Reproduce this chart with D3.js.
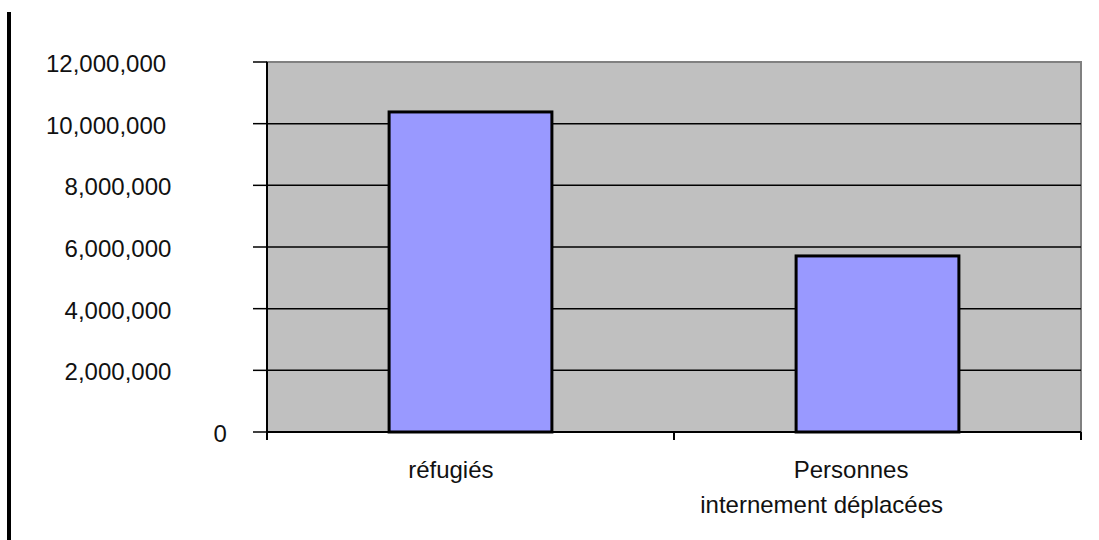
<!DOCTYPE html>
<html lang="fr">
  <head>
    <meta charset="utf-8">
    <title>Réfugiés et personnes déplacées</title>
    <style>
      body { margin: 0; background: #fff; }
      text { font-family: "Liberation Sans", Arial, sans-serif; font-size: 24px; fill: #111; }
      .grid { stroke: #000; stroke-width: 1.5px; }
      .bar { fill: #9999ff; stroke: #000; stroke-width: 3px; }
    </style>
  </head>
  <body>

<script src="https://cdn.jsdelivr.net/npm/d3@7"></script>

<script>

// data
const categories = ["réfugiés", "Personnes\ninternement déplacées"];
const values = [10380000, 5710000];
const yTicks = [0, 2000000, 4000000, 6000000, 8000000, 10000000, 12000000];
const xTickLabels = ["réfugiés", ["Personnes", "internement déplacées"]];

const width = 1099, height = 540;
const plot = {left: 267, right: 1081, top: 62, bottom: 432};

const svg = d3.select("body").append("svg")
    .attr("width", width)
    .attr("height", height);

// thick black rule on the far left
svg.append("rect")
    .attr("x", 7).attr("y", 12)
    .attr("width", 4).attr("height", height - 12)
    .attr("fill", "#000");

const y = d3.scaleLinear().domain([0, 12000000]).range([plot.bottom, plot.top]);
const x = d3.scaleBand().domain(categories)
    .range([plot.left, plot.right])
    .paddingInner(0.6).paddingOuter(0.3);

// plot area
svg.append("rect")
    .attr("x", plot.left).attr("y", plot.top)
    .attr("width", plot.right - plot.left).attr("height", plot.bottom - plot.top)
    .attr("fill", "#c0c0c0")
    .attr("stroke", "#808080").attr("stroke-width", 2);

// gridlines
svg.selectAll("line.grid")
  .data(yTicks.filter(d => d > 0 && d < 12000000))
  .enter().append("line")
    .attr("class", "grid")
    .attr("x1", plot.left).attr("x2", plot.right)
    .attr("y1", d => y(d)).attr("y2", d => y(d));

// bars
svg.selectAll("rect.bar")
  .data(values)
  .enter().append("rect")
    .attr("class", "bar")
    .attr("x", (d, i) => x(categories[i]))
    .attr("width", x.bandwidth())
    .attr("y", d => y(d))
    .attr("height", d => y(0) - y(d));

// axes lines
svg.append("line")
    .attr("x1", plot.left).attr("x2", plot.left)
    .attr("y1", plot.top).attr("y2", plot.bottom)
    .attr("stroke", "#000").attr("stroke-width", 2);
svg.append("line")
    .attr("x1", plot.left).attr("x2", plot.right)
    .attr("y1", plot.bottom).attr("y2", plot.bottom)
    .attr("stroke", "#000").attr("stroke-width", 2);

// y ticks
svg.selectAll("line.ytick")
  .data(yTicks)
  .enter().append("line")
    .attr("x1", plot.left - 14).attr("x2", plot.left)
    .attr("y1", d => y(d)).attr("y2", d => y(d))
    .attr("stroke", "#000").attr("stroke-width", 1.5);

// y labels, placed the way the original spreadsheet did (fixed width per char)
const fmt = d3.format(",");
svg.selectAll("text.ylab")
  .data(yTicks)
  .enter().append("text")
    .attr("x", d => 232 - 18.6 * fmt(d).length)
    .attr("y", d => y(d) + 1.5)
    .attr("dy", "0.35em")
    .text(d => fmt(d));

// x ticks between categories
const xTickPos = [plot.left, (plot.left + plot.right) / 2, plot.right];
svg.selectAll("line.xtick")
  .data(xTickPos)
  .enter().append("line")
    .attr("x1", d => d).attr("x2", d => d)
    .attr("y1", plot.bottom).attr("y2", plot.bottom + 8)
    .attr("stroke", "#000").attr("stroke-width", 2);

// category labels
xTickLabels.forEach((lab, i) => {
  const lines = Array.isArray(lab) ? lab : [lab];
  const cx = x(categories[i]) + x.bandwidth() / 2;
  lines.forEach((t, j) => {
    const txt = svg.append("text")
        .attr("y", 478 + j * 34.5)
        .text(t);
    const w = txt.node().getComputedTextLength();
    txt.attr("x", cx - 0.73 * w);
  });
});

</script>

  </body>
</html>
